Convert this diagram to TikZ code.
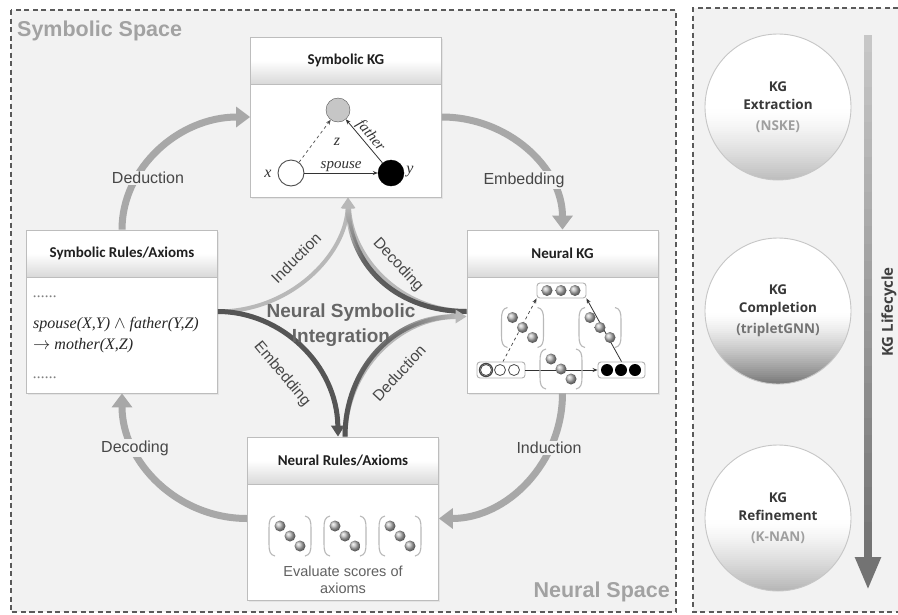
\documentclass[tikz,border=0pt]{standalone}
\usepackage{fontspec}
\setmainfont{Liberation Sans}
\newfontfamily\hdrfont{Carlito}
\newfontfamily\seriffont{Liberation Serif}
\newfontfamily\circfont{Open Sans}
\usetikzlibrary{arrows.meta,shadows,fadings,calc}

\definecolor{bgpanel}{HTML}{F2F2F2}
\definecolor{framegray}{HTML}{5A5A5A}
\definecolor{boxline}{HTML}{BDBDBD}
\definecolor{cycgray}{HTML}{A8A8A8}
\definecolor{darkarc}{HTML}{555555}
\definecolor{lightarc}{HTML}{B8B8B8}
\definecolor{labelgray}{HTML}{474747}
\definecolor{spacegray}{HTML}{A2A2A2}

% fadings: middle colour is given last so that it is kept
\tikzfading[name=fadeup, top color=transparent!100, bottom color=transparent!0, middle color=transparent!10]
\tikzfading[name=faderight, left color=transparent!0, right color=transparent!100, middle color=transparent!25]

\tikzset{
  panelline/.style={draw=framegray, line width=1.6pt, dash pattern=on 5pt off 3.5pt},
  boxbody/.style={draw=boxline, fill=white, line width=0.8pt, minimum width=191pt,
    inner sep=0pt, drop shadow={opacity=0.12, shadow xshift=1.5pt, shadow yshift=-1.5pt}},
  boxhead/.style={draw=boxline, line width=0.8pt, top color=white, bottom color=gray!30,
    middle color=white, font=\hdrfont\bfseries\fontsize{15}{18}\selectfont,
    text=black!88, minimum width=191pt, minimum height=47pt, inner sep=0pt, anchor=north},
  cyc/.style={cycgray, line width=7pt, arrows={-Triangle[width=20pt,length=14pt]}},
  cyclabel/.style={fill=bgpanel, inner sep=1.5pt, font=\fontsize{16}{18}\selectfont, text=labelgray},
  innerlabel/.style={inner sep=0pt, font=\fontsize{15.5}{18}\selectfont, text=labelgray},
  spacelabel/.style={inner sep=0pt, font=\bfseries\fontsize{21.5}{24}\selectfont, text=spacegray},
  kgvar/.style={inner sep=1pt, font=\seriffont\itshape\fontsize{16}{18}\selectfont, text=black!80},
  rule/.style={inner sep=0pt, anchor=west, font=\seriffont\itshape\fontsize{16}{18}\selectfont, text=black!85},
  vecbox/.style={draw=gray!60, fill=white, rounded corners=3pt, line width=0.9pt, inner sep=0pt},
  brk/.style={draw=gray!55, line width=1.1pt},
  stage/.style={circle, draw=gray!45, line width=0.9pt, minimum size=146pt, inner sep=0pt,
    align=center, font=\circfont\bfseries\fontsize{13.5}{21}\selectfont, text=black!78},
  small tip/.style={arrows={-Stealth[length=5pt,width=4pt]}},
  mtx/.pic={
    \draw[brk] (-15,-20) .. controls (-20,-19) and (-21,-15) .. (-21,-8) -- (-21,8)
      .. controls (-21,15) and (-20,19) .. (-15,20);
    \draw[brk] (15,-20) .. controls (20,-19) and (21,-15) .. (21,-8) -- (21,8)
      .. controls (21,15) and (20,19) .. (15,20);
    \shade[ball color=gray!55] (-10,-10) circle (5.5);
    \shade[ball color=gray!55] (0,0) circle (5.5);
    \shade[ball color=gray!55] (10,10) circle (5.5);
  }
}

\begin{document}
\begin{tikzpicture}[x=1pt, y=-1pt]
\useasboundingbox[fill=white] (0,0) rectangle (898,614);

% the two dashed regions
\fill[bgpanel] (11,10) rectangle (676,612);
\draw[panelline] (11,10) rectangle (676,612);
\fill[bgpanel] (693,8) rectangle (898,612);
\draw[panelline] (898,8) -- (693,8) -- (693,612) -- (898,612);

\node[spacelabel, anchor=west] (symspace) at (17,31) {Symbolic Space};
\node[spacelabel, anchor=east] (neuspace) at (670,592) {Neural Space};

% lifecycle column: white discs whose lower half darkens in thin bands
\foreach \cy/\dmax in {107/27, 311/55, 518/30} {
  \begin{scope}
    \clip (778,\cy) circle (73);
    \fill[white] (778,\cy) circle (73);
    \foreach \k in {0,...,37} {
      \pgfmathsetmacro\dk{\dmax*(\k/37)^1.4}
      \fill[black!\dk] (704,\cy+2*\k) rectangle (852,\cy+2*\k+2.4);
    }
  \end{scope}
}
\node[stage] (ext) at (778,107) {KG\\[-3pt]Extraction\\{\color{gray!75}(NSKE)}};
\node[stage] (comp) at (778,311) {KG\\[-3pt]Completion\\{\color{black!55}(tripletGNN)}};
\node[stage] (refi) at (778,518) {KG\\[-3pt]Refinement\\{\color{gray!75}(K-NAN)}};

% lifecycle arrow: shaft darkening downwards, solid head
\coordinate (lcTop) at (868,35);
\coordinate (lcHead) at (868,557);
\coordinate (lcEnd) at (868,590);
\foreach \k in {0,...,29} {
  \pgfmathsetmacro\shd{22+33*\k/29}
  \draw[black!\shd, line width=8pt]
    ($(lcTop)!\k/30!(lcHead)$) -- ($(lcTop)!\k/30+0.0345!(lcHead)$);
}
\draw[black!55, line width=8pt, arrows={-Triangle[width=24pt,length=33pt]}] (lcHead) -- (lcEnd);
\node[rotate=90, inner sep=0pt, font=\circfont\bfseries\fontsize{15}{18}\selectfont, text=black!75]
  (lclabel) at (889,312) {KG Lifecycle};

% the four boxes
\node[boxbody, minimum height=160pt] (symkg) at (346,117) {};
\node[boxbody, minimum height=163pt] (symrules) at (122,311.5) {};
\node[boxbody, minimum height=163pt] (neukg) at (562.5,311.5) {};
\node[boxbody, minimum height=163pt] (neurules) at (343,518.5) {};

\node[boxhead] (symkghd) at (symkg.north) {Symbolic KG};
\node[boxhead] (symruleshd) at (symrules.north) {Symbolic Rules/Axioms};
\node[boxhead] (neukghd) at (neukg.north) {Neural KG};
\node[boxhead] (neuruleshd) at (neurules.north) {Neural Rules/Axioms};

% outer cycle
\draw[cyc] (symrules.north) .. controls +(0,-62) and +(-71,0) .. (symkg.west);
\draw[cyc] (symkg.east) .. controls +(66,0) and +(0,-62) .. (neukg.north);
\draw[cyc] (neukg.south) .. controls +(0,69) and +(68.5,0) .. (neurules.east);
\draw[cyc] (neurules.west) .. controls +(-69.5,0) and +(0,69) .. (symrules.south);

\node[cyclabel] (lded) at (148,178) {Deduction};
\node[cyclabel] (lemb) at (524,180) {Embedding};
\node[cyclabel] (lind) at (549,448) {Induction};
\node[cyclabel] (ldec) at (135,448) {Decoding};

% inner integration arcs
\draw[lightarc, line width=4pt, arrows={-Triangle[width=13pt,length=11pt]}]
  (symrules.east) .. controls +(73,0) and +(-2,57) .. ([xshift=2pt]symkg.south);
\draw[lightarc, line width=5pt, arrows={-Triangle[width=13pt,length=11pt]}]
  (neukg.west) .. controls +(-67,0) and +(3,60) .. ([xshift=2pt]symkg.south);
\draw[darkarc, line width=5pt, path fading=fadeup]
  (neukg.west) .. controls +(-67,0) and +(3,60) .. ([xshift=2pt,yshift=-12pt]symkg.south);
\draw[darkarc, line width=5pt, arrows={-Triangle[width=13pt,length=11pt]}]
  (symrules.east) .. controls +(63,0) and +(-1,-72) .. ([xshift=-5pt]neurules.north);
\draw[lightarc, line width=5pt, arrows={-Triangle[width=13pt,length=11pt]}]
  ([xshift=2pt]neurules.north) .. controls +(0,-67) and +(-67,0) .. ([yshift=-5pt]neukg.west);
\draw[darkarc, line width=5pt, path fading=faderight]
  ([xshift=2pt]neurules.north) .. controls +(0,-67) and +(-62,0) .. ([xshift=-12pt,yshift=-5pt]neukg.west);

\node[innerlabel, rotate=45] (iind) at (296,258) {Induction};
\node[innerlabel, rotate=-47] (idec) at (398,265) {Decoding};
\node[innerlabel, rotate=-50] (iemb) at (282,374) {Embedding};
\node[innerlabel, rotate=47] (ided) at (399,373) {Deduction};

\node[inner sep=0pt, align=center, font=\bfseries\fontsize{19}{25}\selectfont, text=black!60]
  (nsi) at (341,325) {Neural Symbolic\\Integration};

% symbolic knowledge graph
\node[circle, draw=gray!65!black, fill=gray!45, minimum size=24pt, inner sep=0pt] (zc) at (338,110) {};
\node[circle, draw=gray!60!black, fill=white, minimum size=26pt, inner sep=0pt, line width=0.9pt] (xc) at (291,173) {};
\node[circle, draw=black, fill=black, minimum size=26pt, inner sep=0pt] (yc) at (391,173) {};
\node[kgvar] (xl) at (268,174) {x};
\node[kgvar] (yl) at (410,172) {y};
\node[kgvar] (zl) at (337,142) {z};
\draw[gray!60!black, dashed, line width=0.7pt, small tip] (xc) -- (zc);
\draw[black!80, line width=0.8pt, small tip] (xc) -- node[kgvar, above, font=\seriffont\itshape\fontsize{15}{18}\selectfont] (spl) {spouse} (yc);
\draw[black!80, line width=0.8pt, small tip] (yc) -- node[kgvar, sloped, above, font=\seriffont\itshape\fontsize{15}{18}\selectfont] (fal) {father} (zc);

% symbolic rules
\node[rule, text=gray] (dots1) at (33,297) {......};
\node[rule] (ax1) at (33,325) {spouse(X,Y) $\wedge$ father(Y,Z)};
\node[rule] (ax2) at (33,346) {$\rightarrow$ mother(X,Z)};
\node[rule, text=gray] (dots2) at (33,378) {......};

% neural knowledge graph
\node[vecbox, minimum width=49pt, minimum height=15pt] (vtop) at (561.5,290.5) {};
\node[vecbox, minimum width=48pt, minimum height=16pt] (vleft) at (501,370) {};
\node[vecbox, minimum width=47pt, minimum height=16pt] (vright) at (621.5,370) {};
\draw[gray!50!black, dashed, line width=0.7pt, small tip] ([xshift=2pt]vleft.north) -- (vtop.south west);
\draw[black!80, line width=0.8pt, small tip] (vright.north) -- (vtop.south east);
\draw[black!80, line width=0.8pt, small tip] (vleft.east) -- (vright.west);
\foreach \bx in {547,561,575} \shade[ball color=gray!55] (\bx,290.5) circle (5.5);
\foreach \bx in {486,500,514} \draw[gray!60!black, fill=white, line width=0.8pt] (\bx,370) circle (5.5);
\draw[gray!55!black, line width=1.3pt] (486,370) circle (6.5);
\foreach \bx in {607,621,635} \fill[black] (\bx,370) circle (6);
\pic at (522.5,327.5) {mtx};
\pic at (600,327.5) {mtx};
\pic at (561,369) {mtx};

% neural rules
\pic at (290,536) {mtx};
\pic at (345,536) {mtx};
\pic at (400,536) {mtx};
\node[inner sep=0pt, align=center, font=\fontsize{14.5}{16.5}\selectfont, text=black!62]
  (evl) at (343,580) {Evaluate scores of\\axioms};
\end{tikzpicture}
\end{document}
